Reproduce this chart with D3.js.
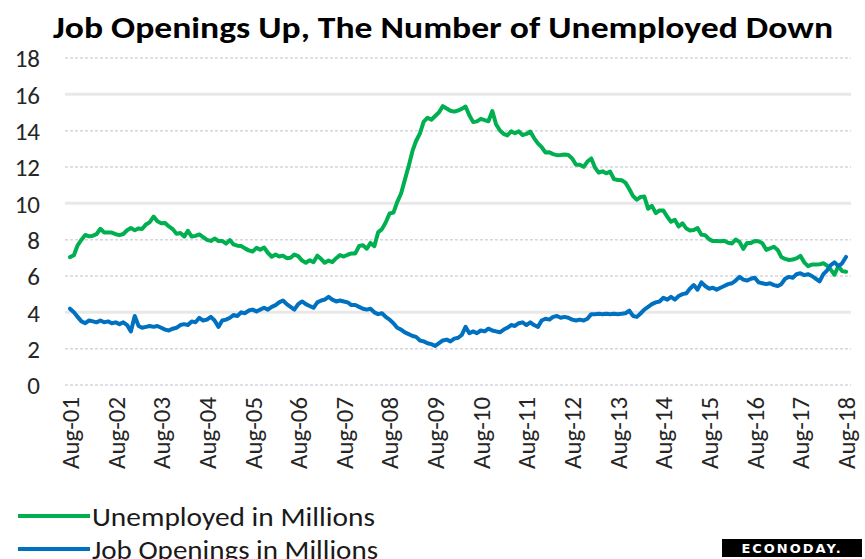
<!DOCTYPE html>
<html><head><meta charset="utf-8">
<script src="https://cdn.jsdelivr.net/npm/d3@7"></script>
<style>
html,body{margin:0;padding:0;background:#fff;}
svg{display:block;font-family:Carlito,Calibri,Lato,"Open Sans",sans-serif;}
</style></head>
<body><svg id="c" width="865" height="559"></svg>
<script>
const title = "Job Openings Up, The Number of Unemployed Down";
const startYear = 2001, startMonth = 7; // Aug 2001 (0-based month)
const yTicks = [0, 2, 4, 6, 8, 10, 12, 14, 16, 18];
const xTickLabels = ["Aug-01","Aug-02","Aug-03","Aug-04","Aug-05","Aug-06","Aug-07","Aug-08","Aug-09","Aug-10","Aug-11","Aug-12","Aug-13","Aug-14","Aug-15","Aug-16","Aug-17","Aug-18"];
const seriesNames = ["Unemployed in Millions", "Job Openings in Millions"];

// Unemployed, millions, monthly Aug 2001 - Aug 2018
const unemployed = [
 7.04,7.14,7.69,8.00,8.26,
 8.18,8.22,8.30,8.60,8.40,8.39,8.39,8.30,8.25,8.31,8.52,8.64,
 8.52,8.62,8.59,8.84,8.96,9.27,9.01,8.90,8.92,8.73,8.58,8.32,
 8.37,8.17,8.49,8.17,8.21,8.29,8.14,7.99,7.93,8.06,7.93,7.93,
 7.78,7.98,7.74,7.67,7.65,7.52,7.41,7.35,7.55,7.45,7.57,7.28,
 7.06,7.18,7.07,7.12,6.98,7.00,7.18,7.09,6.85,6.73,6.87,6.76,
 7.12,6.93,6.73,6.85,6.77,6.98,7.15,7.07,7.17,7.24,7.24,7.65,
 7.69,7.50,7.82,7.64,8.40,8.58,8.94,9.44,9.49,10.07,10.54,11.29,
 12.06,12.90,13.43,13.85,14.50,14.71,14.60,14.81,15.01,15.35,15.22,15.10,
 15.05,15.11,15.20,15.33,14.85,14.47,14.51,14.65,14.58,14.52,15.08,14.35,
 14.01,13.82,13.74,13.96,13.86,13.96,13.76,13.82,13.95,13.59,13.30,13.09,
 12.80,12.81,12.71,12.65,12.66,12.69,12.66,12.47,12.12,12.12,12.01,12.30,
 12.47,11.95,11.69,11.76,11.65,11.75,11.34,11.28,11.27,11.14,10.79,10.40,
 10.20,10.35,10.38,9.70,9.86,9.46,9.61,9.60,9.26,8.99,9.09,8.72,
 8.90,8.61,8.50,8.53,8.64,8.27,8.25,8.03,7.92,7.93,7.91,7.94,
 7.83,7.79,8.01,7.88,7.49,7.82,7.81,7.93,7.91,7.80,7.44,7.52,
 7.61,7.43,7.05,6.94,6.88,6.91,6.97,7.11,6.75,6.54,6.63,6.63,
 6.64,6.70,6.58,6.35,6.07,6.55,6.27,6.23
];

// Job openings, millions, monthly Aug 2001 - Aug 2018
const jobOpenings = [
 4.20,4.00,3.75,3.50,3.40,
 3.55,3.50,3.45,3.55,3.45,3.50,3.40,3.45,3.35,3.45,3.30,2.95,
 3.80,3.25,3.15,3.20,3.25,3.20,3.25,3.15,3.05,3.00,3.10,3.15,
 3.30,3.35,3.30,3.50,3.45,3.70,3.55,3.60,3.75,3.55,3.20,3.55,
 3.60,3.70,3.85,3.80,4.00,3.95,4.10,4.15,4.05,4.15,4.25,4.15,
 4.30,4.40,4.55,4.65,4.45,4.30,4.15,4.45,4.60,4.45,4.35,4.25,
 4.55,4.65,4.70,4.85,4.70,4.60,4.65,4.60,4.55,4.40,4.40,4.30,
 4.20,4.15,4.20,4.00,3.90,3.95,3.75,3.60,3.40,3.15,3.05,2.90,
 2.80,2.70,2.65,2.45,2.40,2.30,2.25,2.15,2.30,2.45,2.50,2.40,
 2.55,2.60,2.75,3.20,2.85,2.95,2.85,3.00,2.95,3.10,3.00,2.95,
 2.90,3.05,3.15,3.30,3.25,3.40,3.45,3.30,3.45,3.30,3.20,3.55,
 3.65,3.60,3.75,3.80,3.70,3.75,3.70,3.60,3.55,3.60,3.55,3.65,
 3.90,3.90,3.92,3.90,3.92,3.90,3.92,3.90,3.92,3.95,4.10,3.80,
 3.75,3.95,4.15,4.30,4.45,4.55,4.60,4.80,4.70,4.85,4.70,4.90,
 5.00,5.05,5.30,5.50,5.25,5.65,5.45,5.30,5.35,5.25,5.35,5.45,
 5.55,5.60,5.75,5.95,5.80,5.75,5.85,5.90,5.65,5.60,5.55,5.60,
 5.50,5.45,5.55,5.85,5.95,5.90,6.10,6.15,6.05,6.10,6.00,5.85,
 5.70,6.10,6.30,6.60,6.75,6.55,6.70,7.05
];

const colors = ["#00B050", "#0070C0"];
const svg = d3.select("#c");
const dates = unemployed.map((_, i) => new Date(startYear, startMonth + i, 1));

const x = d3.scaleTime()
  .domain([dates[0], dates[dates.length - 1]])
  .range([70, 846]);
const y = d3.scaleLinear().domain([0, 18]).range([385, 58]);

// Title
svg.append("text")
  .attr("x", 53).attr("y", 38)
  .attr("font-size", 30).attr("font-weight", "bold").attr("fill", "#000")
  .attr("textLength", 780).attr("lengthAdjust", "spacingAndGlyphs")
  .text(title);

// Gridlines
const solid = new Set([4, 10, 16]);
svg.append("g").selectAll("line").data(yTicks).join("line")
  .attr("x1", 65).attr("x2", 851)
  .attr("y1", d => y(d)).attr("y2", d => y(d))
  .attr("stroke", d => solid.has(d) ? "#e8e8e8" : "#d6d6de")
  .attr("stroke-width", d => solid.has(d) ? 3 : 1.5)
  .attr("stroke-dasharray", d => solid.has(d) ? null : "3,2");

// Y axis labels
const yAxis = d3.axisLeft(y).tickValues(yTicks).tickSize(0).tickPadding(0);
const yg = svg.append("g").attr("transform", "translate(40,0)").call(yAxis);
yg.select(".domain").remove();
yg.selectAll("text").attr("font-size", 25).attr("fill", "#262626")
  .attr("font-family", "Carlito,Calibri,Lato,sans-serif").attr("dy", "0.35em");

// X axis labels
const xTickDates = xTickLabels.map((_, i) => new Date(startYear + i, startMonth, 1));
const xAxis = d3.axisBottom(x).tickValues(xTickDates).tickSize(0)
  .tickFormat((d, i) => xTickLabels[i]);
const xg = svg.append("g").attr("transform", "translate(0,394)").call(xAxis);
xg.select(".domain").remove();
xg.selectAll("text")
  .attr("font-size", 24).attr("fill", "#262626")
  .attr("font-family", "Carlito,Calibri,Lato,sans-serif")
  .attr("transform", "rotate(-90)")
  .attr("text-anchor", "end")
  .attr("x", -3).attr("y", 0).attr("dy", "0.35em")
  .attr("textLength", 72).attr("lengthAdjust", "spacingAndGlyphs");

// Lines
const line = d3.line().x((d, i) => x(dates[i])).y(d => y(d)).curve(d3.curveLinear);
[unemployed, jobOpenings].forEach((s, k) => {
  svg.append("path").datum(s)
    .attr("d", line)
    .attr("fill", "none")
    .attr("stroke", colors[k])
    .attr("stroke-width", 4)
    .attr("stroke-linejoin", "round")
    .attr("stroke-linecap", "round");
});

// Legend
const legY = [516, 549];
const legLen = [283, 286];
seriesNames.forEach((n, k) => {
  svg.append("line").attr("x1", 18).attr("x2", 90)
    .attr("y1", legY[k]).attr("y2", legY[k])
    .attr("stroke", colors[k]).attr("stroke-width", 4);
  svg.append("text").attr("x", 92).attr("y", legY[k]).attr("dy", "0.36em")
    .attr("font-size", 27).attr("fill", "#1a1a1a")
    .attr("textLength", legLen[k]).attr("lengthAdjust", "spacingAndGlyphs")
    .text(n);
});

// Logo
svg.append("rect").attr("x", 722).attr("y", 539).attr("width", 140).attr("height", 18).attr("fill", "#000");
svg.append("text").attr("x", 792).attr("y", 548).attr("dy", "0.35em")
  .attr("text-anchor", "middle").attr("font-size", 13).attr("font-weight", "bold")
  .attr("letter-spacing", 2).attr("fill", "#fff")
  .attr("font-family", "DejaVu Sans,sans-serif")
  .text("ECONODAY.");
</script></body></html>
